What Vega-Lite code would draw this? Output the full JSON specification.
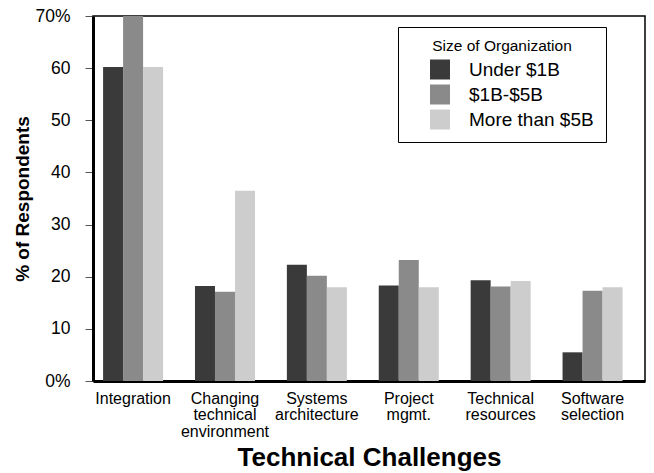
{
  "$schema": "https://vega.github.io/schema/vega-lite/v6.json",
  "width": 552,
  "height": 365,
  "autosize": {"type": "none"},
  "padding": {"left": 93, "top": 16, "right": 9, "bottom": 92},
  "background": "white",
  "config": {
    "font": "Liberation Sans",
    "view": {"stroke": "black", "strokeWidth": 1.5}
  },
  "data": {
    "values": [
      {"challenge": "Integration", "size": "Under $1B", "pct": 60.2},
      {"challenge": "Integration", "size": "$1B-$5B", "pct": 70},
      {"challenge": "Integration", "size": "More than $5B", "pct": 60.2},
      {"challenge": "Changing technical environment", "size": "Under $1B", "pct": 18.2},
      {"challenge": "Changing technical environment", "size": "$1B-$5B", "pct": 17.1},
      {"challenge": "Changing technical environment", "size": "More than $5B", "pct": 36.5},
      {"challenge": "Systems architecture", "size": "Under $1B", "pct": 22.3},
      {"challenge": "Systems architecture", "size": "$1B-$5B", "pct": 20.2},
      {"challenge": "Systems architecture", "size": "More than $5B", "pct": 18},
      {"challenge": "Project mgmt.", "size": "Under $1B", "pct": 18.3},
      {"challenge": "Project mgmt.", "size": "$1B-$5B", "pct": 23.2},
      {"challenge": "Project mgmt.", "size": "More than $5B", "pct": 18},
      {"challenge": "Technical resources", "size": "Under $1B", "pct": 19.3},
      {"challenge": "Technical resources", "size": "$1B-$5B", "pct": 18.1},
      {"challenge": "Technical resources", "size": "More than $5B", "pct": 19.2},
      {"challenge": "Software selection", "size": "Under $1B", "pct": 5.5},
      {"challenge": "Software selection", "size": "$1B-$5B", "pct": 17.3},
      {"challenge": "Software selection", "size": "More than $5B", "pct": 18}
    ]
  },
  "mark": {"type": "bar", "clip": true},
  "encoding": {
    "x": {
      "field": "challenge",
      "type": "nominal",
      "sort": null,
      "scale": {"paddingInner": 0.347, "paddingOuter": 0.177, "align": 0.31},
      "axis": {
        "title": "Technical Challenges",
        "titleFontSize": 26,
        "titleFontWeight": "bold",
        "titleColor": "black",
        "titlePadding": 5,
        "labelAngle": 0,
        "labelExpr": "split(datum.label, ' ')",
        "labelFontSize": 16,
        "labelColor": "black",
        "labelLineHeight": 16.5,
        "labelPadding": 9,
        "labelLimit": 200,
        "ticks": false,
        "domainColor": "black",
        "domainWidth": 3
      }
    },
    "xOffset": {
      "field": "size",
      "type": "nominal",
      "sort": ["Under $1B", "$1B-$5B", "More than $5B"],
      "scale": {"paddingInner": 0, "paddingOuter": 0}
    },
    "y": {
      "field": "pct",
      "type": "quantitative",
      "scale": {"domain": [0, 70], "nice": false},
      "axis": {
        "title": "% of Respondents",
        "titleFontSize": 19,
        "titleFontWeight": "bold",
        "titleColor": "black",
        "titlePadding": 2,
        "values": [0, 10, 20, 30, 40, 50, 60, 70],
        "labelExpr": "(datum.value == 0 || datum.value == 70) ? datum.value + '%' : datum.value",
        "labelFontSize": 17.5,
        "labelColor": "black",
        "labelPadding": 15,
        "tickSize": 8,
        "tickColor": "#555",
        "tickWidth": 1,
        "grid": false,
        "domainColor": "black",
        "domainWidth": 3
      }
    },
    "color": {
      "field": "size",
      "type": "nominal",
      "sort": ["Under $1B", "$1B-$5B", "More than $5B"],
      "scale": {
        "domain": ["Under $1B", "$1B-$5B", "More than $5B"],
        "range": ["#3a3a3a", "#8a8a8a", "#cdcdcd"]
      },
      "legend": {
        "title": "Size of Organization",
        "orient": "none",
        "legendX": 305,
        "legendY": 11,
        "direction": "vertical",
        "fillColor": "white",
        "strokeColor": "black",
        "padding": 12,
        "titleFontSize": 15.5,
        "titleFontWeight": "normal",
        "titleColor": "black",
        "titlePadding": 5,
        "titleAnchor": "middle",
        "labelFontSize": 19,
        "labelColor": "black",
        "labelOffset": 19,
        "labelLimit": 300,
        "symbolType": "square",
        "symbolSize": 400,
        "symbolStrokeWidth": 0,
        "symbolOffset": 20,
        "rowPadding": 5
      }
    }
  }
}
